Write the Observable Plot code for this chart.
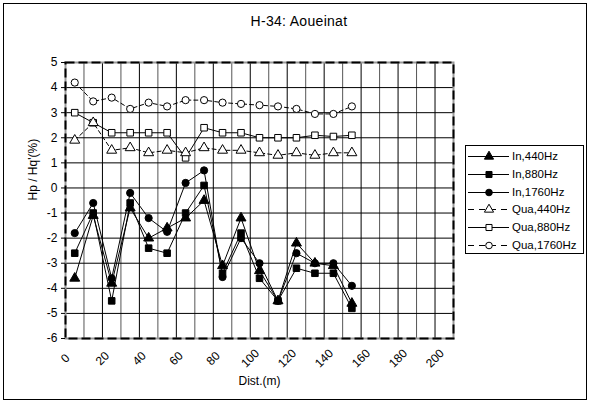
<!DOCTYPE html>
<html>
<head>
<meta charset="utf-8">
<script src="https://cdn.jsdelivr.net/npm/d3@7"></script>
<script src="https://cdn.jsdelivr.net/npm/@observablehq/plot@0.6"></script>
<style>
  html, body { margin: 0; padding: 0; background: white; }
  #wrap { position: relative; width: 591px; height: 405px; font-family: "Liberation Sans", Arial, sans-serif; }
  #border { position: absolute; left: 3px; top: 3px; width: 584px; height: 397px; border: 1px solid black; box-sizing: border-box; pointer-events: none; }
  #title { position: absolute; left: 0; width: 598px; top: 13px; text-align: center; font-size: 14px; letter-spacing: 0.3px; }
  #legend { position: absolute; left: 465px; top: 145px; width: 119px; height: 109px; border: 1px solid black; box-sizing: border-box; background: white; }
  .row { position: absolute; left: 0; height: 18px; display: flex; align-items: center; font-size: 11.5px; }
  .row svg { display: block; }
  #chart { position: absolute; left: 0; top: 0; }
</style>
</head>
<body>
<div id="wrap">
  <div id="chart"></div>
  <div id="title">H-34: Aoueinat</div>
  <div id="legend"></div>
  <div id="border"></div>
</div>
<script>
// ---- data ----
const dist = [5, 15, 25, 35, 45, 55, 65, 75, 85, 95, 105, 115, 125, 135, 145, 155];
const in440 = [-3.6, -1.1, -3.8, -0.8, -2.0, -1.6, -1.2, -0.5, -3.1, -1.2, -3.3, -4.5, -2.2, -3.0, -3.1, -4.6];
const in880 = [-2.6, -1.0, -4.5, -0.6, -2.4, -2.6, -1.0, 0.1, -3.4, -1.8, -3.6, -4.5, -3.2, -3.4, -3.4, -4.8];
const in1760 = [-1.8, -0.6, -3.6, -0.2, -1.2, -1.75, 0.2, 0.7, -3.55, -2.0, -3.0, -4.5, -2.6, -3.0, -3.0, -3.9];
const qua440 = [1.9, 2.6, 1.5, 1.6, 1.4, 1.5, 1.4, 1.6, 1.5, 1.5, 1.4, 1.3, 1.4, 1.3, 1.4, 1.4];
const qua880 = [3.0, 2.6, 2.2, 2.2, 2.2, 2.2, 1.2, 2.4, 2.2, 2.2, 2.0, 2.0, 2.0, 2.1, 2.05, 2.1];
const qua1760 = [4.2, 3.45, 3.6, 3.15, 3.4, 3.25, 3.5, 3.5, 3.4, 3.35, 3.3, 3.25, 3.15, 2.95, 2.95, 3.25];
const seriesNames = ["In,440Hz", "In,880Hz", "In,1760Hz", "Qua,440Hz", "Qua,880Hz", "Qua,1760Hz"];
const xTicks = [0, 20, 40, 60, 80, 100, 120, 140, 160, 180, 200];
const yTicks = [-6, -5, -4, -3, -2, -1, 0, 1, 2, 3, 4, 5];
const titleText = "H-34: Aoueinat";
const xLabel = "Dist.(m)";
const yLabel = "Hp / Hq'(%)";

// ---- styles per series ----
const styles = {
  "In,440Hz":   {values: in440,   symbol: "triangle", fill: "black", dash: null, r: 3.7},
  "In,880Hz":   {values: in880,   symbol: "square",   fill: "black", dash: null, r: 3.7},
  "In,1760Hz":  {values: in1760,  symbol: "circle",   fill: "black", dash: null, r: 3.6},
  "Qua,440Hz":  {values: qua440,  symbol: "triangle", fill: "white", dash: "4,3", r: 3.7},
  "Qua,880Hz":  {values: qua880,  symbol: "square",   fill: "white", dash: null, r: 3.7},
  "Qua,1760Hz": {values: qua1760, symbol: "circle",   fill: "white", dash: "4,3", r: 3.6}
};

const rows = [];
for (const name of seriesNames) {
  styles[name].values.forEach((v, i) => rows.push({series: name, dist: dist[i], value: v}));
}

const gridX = d3.range(10, 210, 10);
const gridY = d3.range(-5, 5, 1);

const marks = [
  Plot.ruleX(gridX, {stroke: d => (d % 20 === 0 ? "black" : "#555"), strokeWidth: 1}),
  Plot.ruleY(gridY, {stroke: "black", strokeWidth: 1})
];
const order = ["Qua,880Hz", "Qua,440Hz", "Qua,1760Hz", "In,440Hz", "In,880Hz", "In,1760Hz"];
for (const name of order) {
  const s = styles[name];
  marks.push(Plot.line(rows, {filter: d => d.series === name, x: "dist", y: "value", stroke: "black", strokeWidth: 1, strokeDasharray: s.dash}));
}
for (const name of order) {
  const s = styles[name];
  marks.push(Plot.dot(rows, {filter: d => d.series === name, x: "dist", y: "value", symbol: s.symbol, r: s.r, fill: s.fill, stroke: "black", strokeWidth: 1}));
}
marks.push(
  Plot.frame({stroke: "#999", strokeWidth: 2}),
  Plot.frame({stroke: "black", strokeWidth: 2, strokeDasharray: "9,4"}),
  Plot.axisY(yTicks, {tickSize: 4, tickPadding: 4, fontSize: 12, tickFormat: d => String(d), label: null}),
  Plot.text(xTicks, {x: d => d, frameAnchor: "bottom", dy: 20, rotate: -45, text: d => String(d), fontSize: 12, textAnchor: "middle", lineAnchor: "middle"}),
  Plot.text([xLabel], {frameAnchor: "bottom", dy: 43, text: d => d, fontSize: 12, lineAnchor: "middle"}),
  Plot.text([yLabel], {frameAnchor: "left", dx: -32, rotate: -90, text: d => d, fontSize: 12, lineAnchor: "middle"})
);

const chart = Plot.plot({
  width: 591,
  height: 405,
  marginLeft: 65,
  marginRight: 138,
  marginTop: 62,
  marginBottom: 67,
  x: {domain: [0, 210], axis: null},
  y: {domain: [-6, 5], axis: null},
  style: {fontFamily: "'Liberation Sans', Arial, sans-serif", fontSize: "12px", background: "transparent", color: "black"},
  marks
});
document.getElementById("chart").appendChild(chart);
document.getElementById("title").textContent = titleText;

// ---- legend ----
const legend = d3.select("#legend");
seriesNames.forEach((name, i) => {
  const s = styles[name];
  const row = legend.append("div").attr("class", "row").style("top", (1 + i * 17.8) + "px");
  const svg = row.append("svg").attr("width", 45).attr("height", 18);
  svg.append("line").attr("x1", 2).attr("x2", 43).attr("y1", 9.5).attr("y2", 9.5)
    .attr("stroke", "black").attr("stroke-width", 1.2)
    .attr("stroke-dasharray", s.dash ? "6,5" : null);
  const symType = s.symbol === "triangle" ? d3.symbolTriangle : s.symbol === "square" ? d3.symbolSquare : d3.symbolCircle;
  svg.append("path").attr("d", d3.symbol(symType, Math.PI * s.r * s.r * 0.85)())
    .attr("transform", "translate(23,9.5)")
    .attr("fill", s.fill).attr("stroke", "black").attr("stroke-width", 1);
  row.append("span").text(name).style("margin-left", "1px");
});
</script>
</body>
</html>
